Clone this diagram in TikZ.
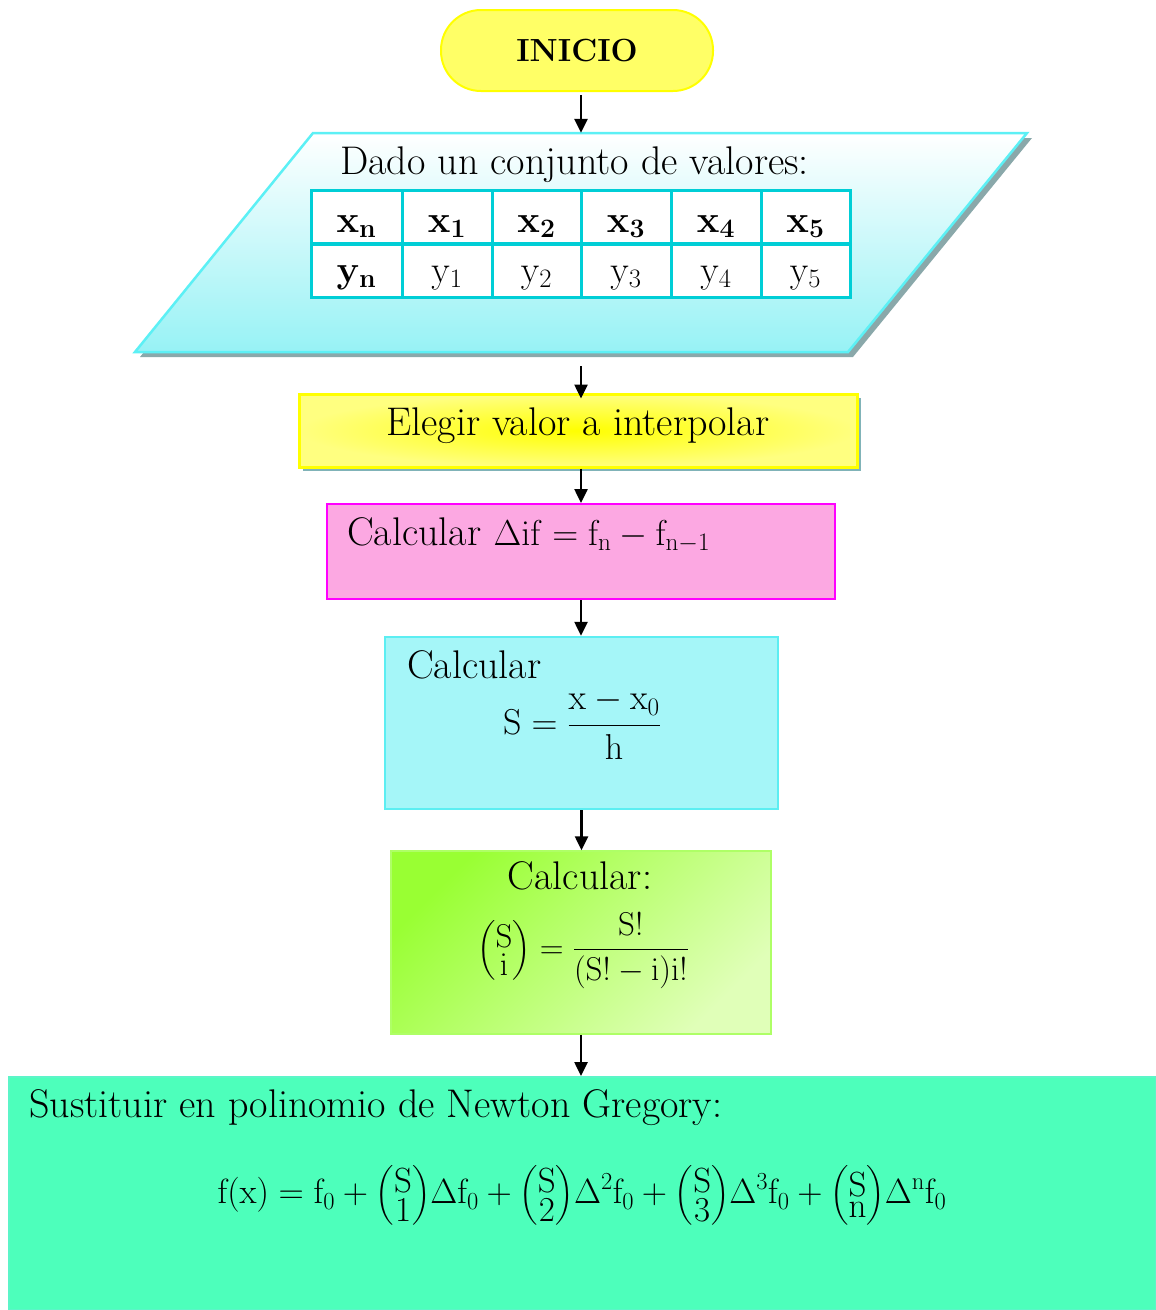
\documentclass[tikz,border=0pt]{standalone}
\usepackage{fix-cm}
\usepackage{amsmath}
\usetikzlibrary{arrows.meta,calc}
\definecolor{inifill}{HTML}{FFFF66}
\definecolor{iniline}{HTML}{FFFF00}
\definecolor{paraline}{HTML}{5CF0F5}
\definecolor{paracyan}{HTML}{97F2F5}
\definecolor{parashadow}{HTML}{8AA8AA}
\definecolor{tabline}{HTML}{00CED6}
\definecolor{yelinner}{HTML}{FFFF00}
\definecolor{yelouter}{HTML}{FFFF80}
\definecolor{yelshadow}{HTML}{80B3B8}
\definecolor{pinkfill}{HTML}{FCA8E2}
\definecolor{pinkline}{HTML}{FF00FF}
\definecolor{cyanfill}{HTML}{A5F6F8}
\definecolor{cyanline}{HTML}{5CEEF2}
\definecolor{greenA}{HTML}{99FF33}
\definecolor{greenB}{HTML}{E0FFB8}
\definecolor{greenline}{HTML}{AEFF66}
\definecolor{mintfill}{HTML}{4DFFBB}
\definecolor{mintline}{HTML}{5CF5C8}
\newcommand\bodyfont{\fontsize{40}{48}\selectfont}
\newcommand\mathfontA{\fontsize{36}{43}\selectfont}
\newcommand\mathfontB{\fontsize{33}{40}\selectfont}
\newcommand\mathfontC{\fontsize{35}{42}\selectfont}
\newcommand\tabfont{\fontsize{38}{45}\selectfont}
\newcommand\tightbinom[2]{\Bigl(\vcenter{\offinterlineskip\halign{\hfil$\mathsurround0pt##$\hfil\cr #1\cr\noalign{\kern6pt}#2\cr}}\Bigr)}
\begin{document}
\begin{tikzpicture}[x=1pt,y=-1pt,
  arr/.style={line width=2.5pt,-{Triangle[length=14pt,width=13pt]}},
  txt/.style={font=\bodyfont,inner sep=0pt},
  cell/.style={font=\tabfont,inner sep=0pt,anchor=base},
  tab/.style={draw=tabline,line width=3pt},
  flowbox/.style={inner sep=0pt},
]
\useasboundingbox (0,0) rectangle (1156,1310);

% INICIO
\node[flowbox,draw=iniline,line width=2pt,fill=inifill,rounded corners=40pt,
      minimum width=272pt,minimum height=81pt,
      font=\fontsize{32}{38}\selectfont\bfseries] (inicio) at (577,50.5) {INICIO};

% Parallelogram (data input)
\fill[parashadow] (318,138) -- (1032,138) -- (853,357) -- (140,357) -- cycle;
\shade[top color=white,bottom color=paracyan] (313,133) -- (1027,133) -- (848,352) -- (135,352) -- cycle;
\draw[paraline,line width=2.5pt,line join=miter] (313,133) -- (1027,133) -- (848,352) -- (135,352) -- cycle;
\node[flowbox,minimum width=540pt,minimum height=219pt] (datos) at (581,242.5) {};
\node[txt,anchor=base west] (dado) at (340,174) {Dado un conjunto de valores:};

% Table
\fill[white] (311,190) rectangle (850,297);
\foreach \x in {402,492,581,671,761} \draw[tab] (\x,190) -- (\x,297);
\draw[tab,line width=4.5pt] (311,244) -- (850,244);
\draw[tab] (311,190) rectangle (850,297);
\node[cell] (xn) at (356.5,232) {$\mathbf{x_n}$};
\node[cell] (x1) at (447,232) {$\mathbf{x_1}$};
\node[cell] (x2) at (536.5,232) {$\mathbf{x_2}$};
\node[cell] (x3) at (626,232) {$\mathbf{x_3}$};
\node[cell] (x4) at (716,232) {$\mathbf{x_4}$};
\node[cell] (x5) at (805.5,232) {$\mathbf{x_5}$};
\node[cell] (yn) at (356.5,282) {$\mathbf{y_n}$};
\node[cell] (y1) at (447,282) {$\mathrm{y}_1$};
\node[cell] (y2) at (536.5,282) {$\mathrm{y}_2$};
\node[cell] (y3) at (626,282) {$\mathrm{y}_3$};
\node[cell] (y4) at (716,282) {$\mathrm{y}_4$};
\node[cell] (y5) at (805.5,282) {$\mathrm{y}_5$};

% Elegir valor
\fill[yelshadow] (303,398) rectangle (861,471);
\node[flowbox,draw=iniline,line width=3pt,inner color=yelinner,outer color=yelouter,
      minimum width=558pt,minimum height=73pt,font=\bodyfont,
      text height=27pt,text depth=17pt] (elegir) at (578,430.5) {Elegir valor a interpolar};

% Delta box
\node[flowbox,draw=pinkline,line width=2pt,fill=pinkfill,
      minimum width=508pt,minimum height=95pt] (dif) at (581,551.5) {};
\node[txt,anchor=base west] (diftxt) at (347,545)
  {Calcular {\mathfontA$\Delta\mathrm{if}=\mathrm{f_n}-\mathrm{f_{n-1}}$}};

% S box
\node[flowbox,draw=cyanline,line width=2.5pt,fill=cyanfill,
      minimum width=393pt,minimum height=172pt] (sbox) at (581.5,723) {};
\node[txt,anchor=base west] (stxt) at (407,678) {Calcular};
\node[inner sep=0pt,font=\mathfontA] (sform) at (582,724)
  {$\displaystyle \mathrm{S}=\frac{\mathrm{x}-\mathrm{x}_0}{\mathrm{h}}$};

% Combination box
\node[flowbox,draw=greenline,line width=1.5pt,top color=greenA,bottom color=greenB,shading angle=45,
      minimum width=380pt,minimum height=183pt] (comb) at (581,942.5) {};
\node[txt,anchor=base] (combtxt) at (580,889) {Calcular:};
\node[inner sep=0pt,font=\mathfontB] (combform) at (583,951)
  {$\displaystyle \tightbinom{\mathrm{S}}{\mathrm{i}}=\frac{\mathrm{S}!}{(\mathrm{S}!-\mathrm{i})\mathrm{i}!}$};

% Newton Gregory box
\node[flowbox,draw=mintline,line width=2pt,fill=mintfill,
      minimum width=1147pt,minimum height=233pt] (newton) at (582,1193.5) {};
\node[txt,anchor=base west] (newtxt) at (29,1117) {Sustituir en polinomio de Newton Gregory:};
\node[inner sep=0pt,font=\mathfontC] (newform) at (582,1195)
  {$\displaystyle \mathrm{f(x)}=\mathrm{f}_0+\tightbinom{\mathrm{S}}{1}\Delta\mathrm{f}_0
   +\tightbinom{\mathrm{S}}{2}\Delta^2\mathrm{f}_0+\tightbinom{\mathrm{S}}{3}\Delta^3\mathrm{f}_0
   +\tightbinom{\mathrm{S}}{\mathrm{n}}\Delta^{\mathrm{n}}\mathrm{f}_0$};

% Connectors
\draw[arr,shorten <=3pt] (datos.north |- inicio.south) -- (datos.north);
\draw[arr,shorten <=14pt,shorten >=-6pt] (datos.south) -- (datos.south |- elegir.north);
\draw[arr] (dif.north |- elegir.south) -- (dif.north);
\draw[arr] (dif.south) -- (dif.south |- sbox.north);
\draw[arr] (sbox.south) -- (sbox.south |- comb.north);
\draw[arr] (comb.south) -- (comb.south |- newton.north);
\end{tikzpicture}
\end{document}
